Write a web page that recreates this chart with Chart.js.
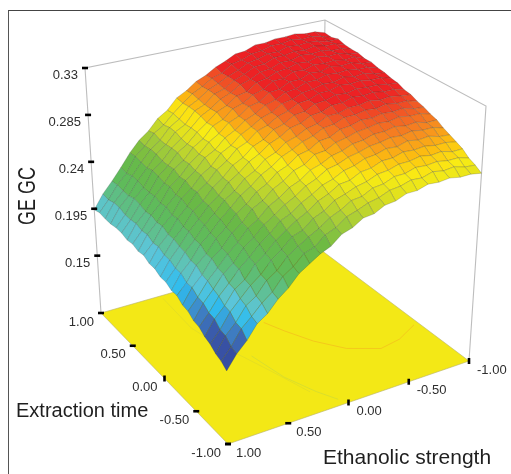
<!DOCTYPE html>
<html>
<head>
<meta charset="utf-8">
<title>GE GC response surface</title>
<script src="https://cdn.jsdelivr.net/npm/chart.js@4/dist/chart.umd.min.js"></script>
<style>
  html, body { margin: 0; padding: 0; background: #fff; overflow: hidden; }
  #frame { position: absolute; left: 8px; top: 10px; width: 503px; height: 464px; border-left: 1.5px solid #555; border-top: 1.5px solid #444; box-sizing: border-box; }
  #surfaceChart { position: absolute; left: 0; top: 0; display: block; }
</style>
</head>
<body>
<div id="frame"></div>
<canvas id="surfaceChart" width="511" height="474"></canvas>
<script>
// grid levels of the two factors
const ethanolLevels = [-1, -0.917, -0.833, -0.75, -0.667, -0.583, -0.5, -0.417, -0.333, -0.25, -0.167, -0.083, 0, 0.083, 0.167, 0.25, 0.333, 0.417, 0.5, 0.583, 0.667, 0.75, 0.833, 0.917, 1];
const extractionLevels = [1, 0.917, 0.833, 0.75, 0.667, 0.583, 0.5, 0.417, 0.333, 0.25, 0.167, 0.083, 0, -0.083, -0.167, -0.25, -0.333, -0.417, -0.5, -0.583, -0.667, -0.75, -0.833, -0.917, -1];

// GE GC, one row per extraction level
const gegc = [
  [0.317,0.320,0.320,0.322,0.321,0.321,0.319,0.319,0.315,0.314,0.309,0.305,0.299,0.295,0.288,0.283,0.273,0.267,0.257,0.250,0.240,0.228,0.217,0.207,0.194],
  [0.316,0.319,0.321,0.320,0.322,0.320,0.320,0.317,0.316,0.312,0.310,0.303,0.300,0.294,0.289,0.282,0.274,0.265,0.259,0.249,0.241,0.227,0.218,0.206,0.196],
  [0.318,0.318,0.320,0.321,0.320,0.321,0.318,0.318,0.315,0.313,0.308,0.304,0.299,0.295,0.288,0.283,0.273,0.267,0.257,0.250,0.240,0.229,0.217,0.208,0.195],
  [0.316,0.319,0.319,0.321,0.319,0.320,0.318,0.318,0.314,0.313,0.308,0.304,0.298,0.295,0.287,0.283,0.272,0.267,0.257,0.250,0.239,0.229,0.217,0.208,0.195],
  [0.315,0.318,0.318,0.320,0.319,0.320,0.317,0.317,0.313,0.312,0.307,0.304,0.298,0.294,0.287,0.282,0.273,0.265,0.258,0.248,0.241,0.227,0.219,0.206,0.196],
  [0.315,0.316,0.319,0.318,0.320,0.317,0.318,0.315,0.314,0.310,0.308,0.301,0.299,0.292,0.288,0.280,0.273,0.264,0.258,0.248,0.240,0.227,0.218,0.206,0.196],
  [0.313,0.317,0.316,0.318,0.317,0.318,0.315,0.316,0.311,0.311,0.305,0.302,0.296,0.293,0.285,0.281,0.271,0.265,0.255,0.249,0.238,0.228,0.216,0.207,0.194],
  [0.313,0.314,0.317,0.316,0.318,0.315,0.316,0.312,0.312,0.307,0.306,0.299,0.297,0.290,0.286,0.278,0.272,0.263,0.256,0.246,0.239,0.226,0.217,0.205,0.195],
  [0.311,0.314,0.314,0.316,0.315,0.316,0.313,0.313,0.309,0.308,0.303,0.300,0.294,0.290,0.283,0.278,0.269,0.264,0.254,0.247,0.236,0.227,0.215,0.206,0.193],
  [0.310,0.311,0.314,0.313,0.315,0.312,0.313,0.310,0.309,0.305,0.303,0.297,0.294,0.288,0.283,0.275,0.270,0.260,0.254,0.244,0.237,0.224,0.216,0.203,0.194],
  [0.308,0.311,0.311,0.313,0.312,0.313,0.310,0.310,0.306,0.305,0.300,0.297,0.291,0.288,0.280,0.276,0.267,0.261,0.251,0.245,0.234,0.225,0.213,0.204,0.191],
  [0.307,0.308,0.310,0.310,0.311,0.309,0.310,0.307,0.306,0.301,0.300,0.294,0.291,0.284,0.280,0.272,0.267,0.258,0.251,0.241,0.234,0.222,0.213,0.201,0.191],
  [0.304,0.307,0.307,0.309,0.308,0.309,0.306,0.306,0.302,0.301,0.296,0.294,0.288,0.284,0.277,0.272,0.264,0.258,0.248,0.241,0.231,0.222,0.211,0.201,0.188],
  [0.303,0.304,0.306,0.305,0.307,0.305,0.305,0.302,0.302,0.297,0.295,0.290,0.287,0.280,0.276,0.268,0.263,0.254,0.248,0.238,0.230,0.219,0.210,0.198,0.188],
  [0.300,0.303,0.303,0.305,0.303,0.304,0.302,0.302,0.298,0.297,0.292,0.289,0.284,0.280,0.273,0.268,0.260,0.254,0.245,0.237,0.227,0.219,0.207,0.198,0.185],
  [0.298,0.299,0.302,0.301,0.302,0.300,0.301,0.298,0.297,0.292,0.291,0.285,0.283,0.276,0.272,0.264,0.259,0.250,0.244,0.234,0.226,0.215,0.207,0.194,0.185],
  [0.295,0.298,0.298,0.300,0.298,0.299,0.297,0.296,0.293,0.291,0.286,0.285,0.278,0.275,0.268,0.263,0.255,0.250,0.240,0.233,0.222,0.215,0.203,0.194,0.181],
  [0.293,0.293,0.296,0.295,0.297,0.295,0.295,0.292,0.291,0.287,0.285,0.280,0.277,0.270,0.266,0.259,0.254,0.245,0.239,0.229,0.221,0.211,0.202,0.190,0.180],
  [0.289,0.292,0.292,0.294,0.292,0.293,0.291,0.290,0.287,0.285,0.281,0.279,0.273,0.269,0.262,0.257,0.250,0.244,0.235,0.228,0.217,0.210,0.199,0.189,0.176],
  [0.286,0.287,0.290,0.289,0.291,0.288,0.289,0.286,0.285,0.281,0.279,0.274,0.271,0.265,0.260,0.253,0.249,0.240,0.233,0.224,0.216,0.206,0.197,0.185,0.175],
  [0.283,0.285,0.285,0.287,0.286,0.287,0.284,0.284,0.280,0.279,0.274,0.273,0.267,0.263,0.256,0.251,0.245,0.238,0.229,0.222,0.211,0.205,0.193,0.184,0.171],
  [0.280,0.280,0.283,0.282,0.284,0.282,0.282,0.279,0.278,0.274,0.272,0.268,0.265,0.258,0.254,0.246,0.243,0.234,0.227,0.217,0.210,0.201,0.192,0.179,0.169],
  [0.275,0.278,0.278,0.280,0.279,0.280,0.277,0.277,0.273,0.272,0.267,0.266,0.260,0.256,0.249,0.244,0.238,0.232,0.222,0.216,0.205,0.199,0.187,0.178,0.165],
  [0.272,0.273,0.276,0.275,0.277,0.274,0.275,0.272,0.271,0.267,0.265,0.261,0.258,0.251,0.247,0.239,0.236,0.227,0.221,0.210,0.203,0.194,0.186,0.173,0.163],
  [0.268,0.270,0.270,0.272,0.271,0.272,0.269,0.269,0.265,0.264,0.259,0.258,0.252,0.249,0.241,0.237,0.231,0.225,0.215,0.208,0.198,0.192,0.180,0.171,0.159]
];

// tick values and labels
const zTicks = [0.33, 0.285, 0.24, 0.195, 0.15];
const zTickLabels = ["0.33", "0.285", "0.24", "0.195", "0.15"];
const factorTicks = [1, 0.5, 0, -0.5, -1];
const factorTickLabels = ["1.00", "0.50", "0.00", "-0.50", "-1.00"];

// contour lines on the floor, in factor units
const contourOrangeEth = [-0.04, -0.11, -0.22, -0.37, -0.58, -0.76, -0.96];
const contourOrangeExt = [0.30, 0.12, -0.12, -0.34, -0.48, -0.44, -0.32];
const contourGreenEth = [0.28, 0.22, 0.12, 0.04];
const contourGreenExt = [-0.06, -0.44, -0.74, -0.92];
const contourPaleEth = [0.46, 0.48, 0.42, 0.34, 0.26, 0.16];
const contourPaleExt = [0.96, 0.50, 0.20, -0.04, -0.32, -0.72];

// colour ramp against GE GC
const rampValues = [0.159, 0.175, 0.183, 0.190, 0.198, 0.207, 0.219, 0.240, 0.255, 0.268, 0.276, 0.284, 0.292, 0.300, 0.307, 0.33];
const rampColors = ["#33469b", "#3a56a8", "#3f88c9", "#2fbcee", "#5cc5d8", "#5fc1a0", "#5dbb5f", "#6ab944", "#a4cc39", "#dfe01f", "#f9ec14", "#fdc010", "#f68b1f", "#f15a25", "#ed2224", "#ed1c24"];

// box corners on screen, floor and top plane
const zMin = 0.095;
const zMax = 0.33;
const floorBox = { left: [101, 313], back: [321, 250], right: [469, 361], front: [228, 444] };
const topBox = { left: [85, 68], back: [325, 20], right: [486, 106], front: [223, 176] };

function lerp(a, b, f) {
  return a + (b - a) * f;
}

// bilinear position inside one of the boxes
function inBox(box, eth, ext) {
  const a = (1 - eth) / 2;
  const b = (1 - ext) / 2;
  const out = [];
  for (let i = 0; i < 2; i++) {
    const near = lerp(box.left[i], box.back[i], a);
    const far = lerp(box.front[i], box.right[i], a);
    out.push(lerp(near, far, b));
  }
  return out;
}

// eth, ext, z to a point on the page scales
function project(eth, ext, z) {
  const h = (z - zMin) / (zMax - zMin);
  const p0 = inBox(floorBox, eth, ext);
  const p1 = inBox(topBox, eth, ext);
  return { x: lerp(p0[0], p1[0], h), y: lerp(p0[1], p1[1], h) };
}

function hexToRgb(hex) {
  return [1, 3, 5].map(i => parseInt(hex.slice(i, i + 2), 16));
}

function colorFor(z) {
  if (z <= rampValues[0]) return rampColors[0];
  for (let i = 1; i < rampValues.length; i++) {
    if (z <= rampValues[i]) {
      const f = (z - rampValues[i - 1]) / (rampValues[i] - rampValues[i - 1]);
      const c0 = hexToRgb(rampColors[i - 1]);
      const c1 = hexToRgb(rampColors[i]);
      return `rgb(${c0.map((v, n) => Math.round(lerp(v, c1[n], f))).join(",")})`;
    }
  }
  return rampColors[rampColors.length - 1];
}

function lineSet(points, color, width) {
  return { data: points, showLine: true, fill: false, borderColor: color, borderWidth: width, pointRadius: 0 };
}

function tickSet(points, rotations) {
  return {
    data: points, showLine: false, pointStyle: "line", pointRadius: 3,
    pointBorderWidth: 2.6, pointBorderColor: "#000", pointRotation: rotations
  };
}

function contour(eths, exts, color) {
  return lineSet(eths.map((e, i) => project(e, exts[i], zMin)), color, 0.6);
}

// painted from the back of the box to the front
const paintOrder = [];

// floor
paintOrder.push({
  data: [project(1, 1, zMin), project(-1, 1, zMin), project(-1, -1, zMin), project(1, -1, zMin), project(1, 1, zMin)],
  showLine: true, fill: "shape", backgroundColor: "#f3e816", borderColor: "#b5b06a", borderWidth: 0.6, pointRadius: 0
});
paintOrder.push(contour(contourOrangeEth, contourOrangeExt, "#f4b41e"));
paintOrder.push(contour(contourGreenEth, contourGreenExt, "#c9d63a"));
paintOrder.push(contour(contourPaleEth, contourPaleExt, "#dcd92a"));

// box edges
const edgeColor = "#bdbdbd";
paintOrder.push(lineSet([project(1, 1, zMin), project(1, 1, zMax), project(-1, 1, zMax), project(-1, -1, zMax), project(-1, -1, zMin)], edgeColor, 1.1));
paintOrder.push(lineSet([project(-1, 1, zMax), project(-1, 1, zMin)], edgeColor, 1.1));

// surface cells
for (let j = 0; j < extractionLevels.length - 1; j++) {
  for (let k = 0; k < ethanolLevels.length - 1; k++) {
    const z00 = gegc[j][k], z01 = gegc[j][k + 1], z10 = gegc[j + 1][k], z11 = gegc[j + 1][k + 1];
    const p00 = project(ethanolLevels[k], extractionLevels[j], z00);
    paintOrder.push({
      data: [
        p00,
        project(ethanolLevels[k + 1], extractionLevels[j], z01),
        project(ethanolLevels[k + 1], extractionLevels[j + 1], z11),
        project(ethanolLevels[k], extractionLevels[j + 1], z10),
        p00
      ],
      showLine: true, fill: "shape", backgroundColor: colorFor((z00 + z01 + z10 + z11) / 4),
      borderColor: "rgba(45,55,45,0.36)", borderWidth: 0.6, pointRadius: 0
    });
  }
}

// ticks go on top
const zTickPoints = zTicks.map(z => project(1, 1, z));
const extTickPoints = factorTicks.map(v => project(1, v, zMin));
const ethTickPoints = factorTicks.map(v => project(v, -1, zMin));
paintOrder.push(tickSet(zTickPoints, 0));
paintOrder.push(tickSet(extTickPoints, [0, 0, 90, 0, 0]));
paintOrder.push(tickSet(ethTickPoints, [0, 0, 90, 90, 90]));

// labels drawn through the scales
const axisText = {
  id: "axisText",
  afterDraw(chart) {
    const { ctx, scales } = chart;
    const px = p => [scales.x.getPixelForValue(p.x), scales.y.getPixelForValue(p.y)];
    ctx.save();
    ctx.textBaseline = "middle";
    ctx.fillStyle = "#2e2e2e";
    ctx.font = "13px 'Liberation Sans', Arial, sans-serif";

    ctx.textAlign = "right";
    zTickPoints.forEach((p, i) => {
      const [x, y] = px(p);
      ctx.fillText(zTickLabels[i], x - 7, y + 7.5);
    });
    extTickPoints.forEach((p, i) => {
      const [x, y] = px(p);
      ctx.fillText(factorTickLabels[i], x - 7, y + 9);
    });
    ctx.textAlign = "left";
    ethTickPoints.forEach((p, i) => {
      const [x, y] = px(p);
      ctx.fillText(factorTickLabels[i], x + 8, y + 9);
    });

    // axis titles
    ctx.fillStyle = "#1f1f1f";
    ctx.font = "20px 'Liberation Sans', Arial, sans-serif";
    ctx.fillText("Extraction time", 16, 411);
    ctx.font = "21px 'Liberation Sans', Arial, sans-serif";
    ctx.fillText("Ethanolic strength", 323, 458);
    // reference title is tall and narrow
    ctx.translate(29, 196);
    ctx.rotate(-Math.PI / 2);
    ctx.scale(0.78, 1);
    ctx.textAlign = "center";
    ctx.font = "23px 'Liberation Sans', Arial, sans-serif";
    ctx.fillText("GE GC", 0, 0);
    ctx.restore();
  }
};

window.addEventListener("DOMContentLoaded", () => {
  new Chart(document.getElementById("surfaceChart"), {
    type: "scatter",
    // chart.js paints the first dataset last
    data: { datasets: paintOrder.slice().reverse() },
    plugins: [axisText],
    options: {
      responsive: false,
      animation: false,
      events: [],
      layout: { autoPadding: false, padding: 0 },
      plugins: { legend: { display: false }, tooltip: { enabled: false }, title: { display: false } },
      scales: {
        x: { type: "linear", min: 0, max: 511, display: false },
        y: { type: "linear", min: 0, max: 474, reverse: true, display: false }
      }
    }
  });
});
</script>
</body>
</html>
